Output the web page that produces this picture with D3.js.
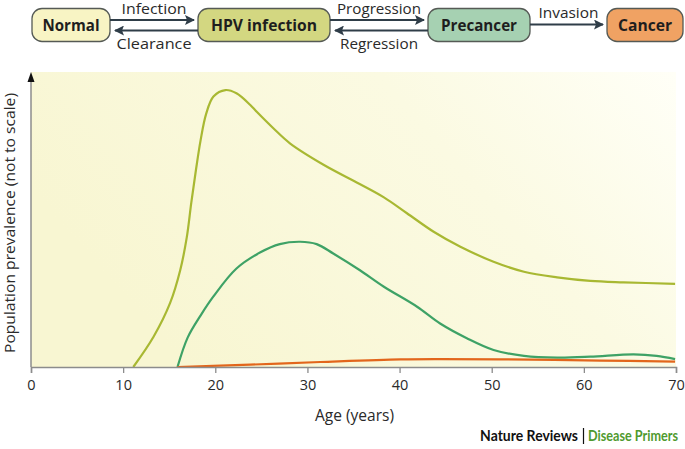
<!DOCTYPE html>
<html>
<head>
<meta charset="utf-8">
<script src="https://cdn.jsdelivr.net/npm/d3@7"></script>
<style>
  body { margin: 0; background: #fff; }
  svg { display: block; font-family: 'Open Sans', 'Liberation Sans', sans-serif; }
</style>
</head>
<body>
<svg id="chart" width="685" height="449"></svg>
<script>
// flow diagram on top
var stages = ['Normal', 'HPV infection', 'Precancer', 'Cancer']
var stageFill = ['#f8f4c4', '#d3d781', '#a6d1b2', '#f0a263']
var forwardLabels = ['Infection', 'Progression', 'Invasion']
var backLabels = ['Clearance', 'Regression']

// curves (age in years, prevalence not to scale 0-100)
var hpvAge = [11.1, 13.3, 15.1, 16.2, 16.9, 17.4, 17.9, 18.4, 19.0, 19.8, 21.1, 22.3, 23.8, 24.5, 26.3, 28.1, 31.7, 35.4, 38.3, 40.8, 43.7, 46.6, 50.2, 53.5, 57.1, 60.7, 64.3, 69.9]
var hpvVal = [0, 10.3, 21.8, 33.0, 44.0, 56.0, 67.0, 77.0, 86.0, 92.0, 94.2, 93.1, 89.1, 86.8, 81.2, 76.1, 68.9, 62.7, 57.7, 52.3, 46.0, 40.9, 35.8, 32.4, 30.5, 29.3, 28.8, 28.3]

var preAge = [15.9, 17.0, 18.4, 19.8, 22.3, 24.9, 27.0, 29.2, 31.0, 32.8, 35.7, 38.3, 41.9, 44.4, 47.3, 50.2, 53.5, 57.1, 60.7, 65.4, 67.9, 69.9]
var preVal = [0, 10.0, 17.5, 24.0, 33.5, 39.0, 41.8, 42.6, 41.8, 38.6, 32.9, 27.3, 20.5, 14.8, 9.8, 5.8, 3.8, 3.2, 3.5, 4.3, 3.8, 2.7]

var cancerAge = [15.9, 23.8, 31.4, 40.1, 44.4, 50.9, 61.8, 69.9]
var cancerVal = [0, 0.8, 1.7, 2.6, 2.7, 2.6, 2.2, 1.8]

var xTicks = [0, 10, 20, 30, 40, 50, 60, 70]

var svg = d3.select('#chart')
var defs = svg.append('defs')

var bg = defs.append('linearGradient').attr('id', 'bg').attr('x1', 0).attr('x2', 1).attr('y1', 0.4).attr('y2', 0)
bg.append('stop').attr('offset', 0).attr('stop-color', '#f8f6d2')
bg.append('stop').attr('offset', 0.6).attr('stop-color', '#fbfae2')
bg.append('stop').attr('offset', 1).attr('stop-color', '#fffff7')

defs.append('marker')
  .attr('id', 'head')
  .attr('viewBox', '0 0 10 10')
  .attr('refX', 9).attr('refY', 5)
  .attr('markerWidth', 5).attr('markerHeight', 5)
  .attr('markerUnits', 'strokeWidth')
  .attr('orient', 'auto')
  .append('path').attr('d', 'M0,0 L10,5 L0,10 L2,5 Z').attr('fill', '#2f3d48')

// ---- top diagram
var boxX = [32, 198, 428, 607]
var boxW = [78, 132, 102, 76]
var boxTop = 8.5, boxH = 33
var textW = [57, 106, 76, 54]

var boxes = svg.append('g').selectAll('g').data(stages).enter().append('g')
boxes.append('rect')
  .attr('x', (d, i) => boxX[i]).attr('y', boxTop)
  .attr('width', (d, i) => boxW[i]).attr('height', boxH)
  .attr('rx', 10)
  .attr('fill', (d, i) => stageFill[i])
  .attr('stroke', '#555a55').attr('stroke-width', 1.3)
boxes.append('text')
  .attr('x', (d, i) => boxX[i] + boxW[i] / 2).attr('y', 31)
  .attr('text-anchor', 'middle')
  .attr('font-weight', 'bold').attr('font-size', 16.5).attr('fill', '#1e1e1e')
  .attr('textLength', (d, i) => textW[i]).attr('lengthAdjust', 'spacingAndGlyphs')
  .text(d => d)

var fwdW = [65, 84, 60]
var backW = [75, 78]
forwardLabels.forEach(function (lab, i) {
  var x0 = boxX[i] + boxW[i]
  var x1 = boxX[i + 1]
  var y = i < 2 ? 20 : 24.5
  svg.append('line')
    .attr('x1', x0).attr('x2', x1 - 4).attr('y1', y).attr('y2', y)
    .attr('stroke', '#2f3d48').attr('stroke-width', 2)
    .attr('marker-end', 'url(#head)')
  svg.append('text')
    .attr('x', (x0 + x1) / 2).attr('y', i < 2 ? 14 : 18)
    .attr('text-anchor', 'middle').attr('font-size', 14.5).attr('fill', '#2a2a2a')
    .attr('textLength', fwdW[i]).attr('lengthAdjust', 'spacingAndGlyphs')
    .text(lab)
})
backLabels.forEach(function (lab, i) {
  var x0 = boxX[i] + boxW[i]
  var x1 = boxX[i + 1]
  var y = 30.5
  svg.append('line')
    .attr('x1', x1).attr('x2', x0 + 5).attr('y1', y).attr('y2', y)
    .attr('stroke', '#2f3d48').attr('stroke-width', 2)
    .attr('marker-end', 'url(#head)')
  svg.append('text')
    .attr('x', (x0 + x1) / 2).attr('y', 49)
    .attr('text-anchor', 'middle').attr('font-size', 15).attr('fill', '#2a2a2a')
    .attr('textLength', backW[i]).attr('lengthAdjust', 'spacingAndGlyphs')
    .text(lab)
})

// ---- chart
var x = d3.scaleLinear().domain([0, 70]).range([31, 676])
var y = d3.scaleLinear().domain([0, 100]).range([367, 73])

svg.append('rect')
  .attr('x', x(0)).attr('y', 72)
  .attr('width', x(70) - x(0)).attr('height', y(0) - 72)
  .attr('fill', 'url(#bg)')

var line = d3.line()
  .x(d => x(d[0]))
  .y(d => y(d[1]))
  .curve(d3.curveCatmullRom.alpha(0.5))

var series = [
  { age: hpvAge, val: hpvVal, color: '#a8b832' },
  { age: preAge, val: preVal, color: '#3ea266' },
  { age: cancerAge, val: cancerVal, color: '#e2661c' }
]
series.forEach(function (s) {
  svg.append('path')
    .datum(s.age.map((a, i) => [a, s.val[i]]))
    .attr('d', line)
    .attr('fill', 'none')
    .attr('stroke', s.color)
    .attr('stroke-width', 2.2)
})

var xAxis = svg.append('g')
  .attr('transform', 'translate(0,' + y(0) + ')')
  .call(d3.axisBottom(x).tickValues(xTicks).tickSize(6).tickPadding(7))
xAxis.select('.domain').attr('stroke', '#8c8c8c').attr('stroke-width', 1.5)
xAxis.selectAll('.tick line').attr('stroke', '#8c8c8c').attr('stroke-width', 1.3)
xAxis.selectAll('.tick text')
  .attr('font-family', "'Open Sans', sans-serif")
  .attr('font-size', 14.5).attr('fill', '#2a2a2a')

// y axis with arrow
svg.append('line')
  .attr('x1', x(0)).attr('x2', x(0)).attr('y1', y(0)).attr('y2', 80)
  .attr('stroke', '#8c8c8c').attr('stroke-width', 1.5)
svg.append('path')
  .attr('d', 'M' + x(0) + ',72 L' + (x(0) - 3.5) + ',82 L' + (x(0) + 3.5) + ',82 Z')
  .attr('fill', '#111')

svg.append('text')
  .attr('x', (x(0) + x(70)) / 2 + 1).attr('y', 421)
  .attr('text-anchor', 'middle').attr('font-size', 16).attr('fill', '#2a2a2a')
  .attr('textLength', 79).attr('lengthAdjust', 'spacingAndGlyphs')
  .text('Age (years)')

svg.append('text')
  .attr('transform', 'translate(15,' + 223 + ') rotate(-90)')
  .attr('text-anchor', 'middle').attr('font-size', 15).attr('fill', '#2a2a2a')
  .attr('textLength', 260).attr('lengthAdjust', 'spacingAndGlyphs')
  .text('Population prevalence (not to scale)')

// footer: squeeze each part horizontally to the width it has in the original
function footerText (txt, right, width, color) {
  var t = svg.append('text')
    .attr('text-anchor', 'end')
    .attr('font-family', 'Lato, sans-serif').attr('font-weight', 'bold')
    .attr('font-size', 16).attr('fill', color)
    .text(txt)
  var k = width / t.node().getComputedTextLength()
  t.attr('transform', 'translate(' + right + ',441) scale(' + k + ',1)')
}
footerText('Nature Reviews', 578, 98, '#111')
svg.append('line')
  .attr('x1', 583.5).attr('x2', 583.5).attr('y1', 428).attr('y2', 444)
  .attr('stroke', '#111').attr('stroke-width', 1.2)
footerText('Disease Primers', 678, 90, '#4f9a2f')
</script>
</body>
</html>
